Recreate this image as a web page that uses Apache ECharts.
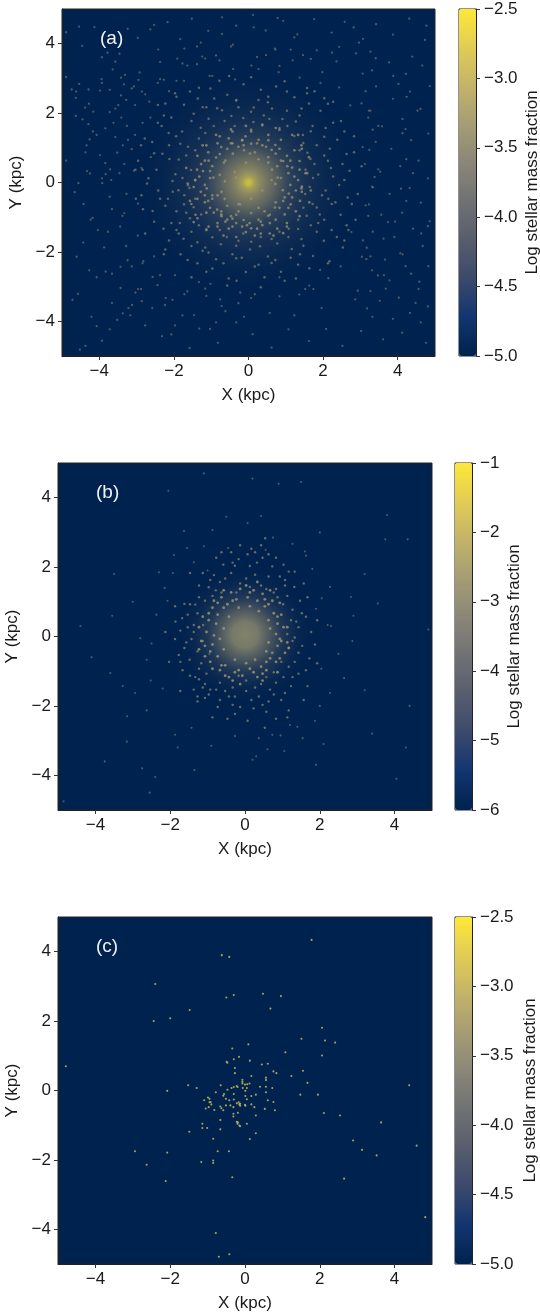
<!DOCTYPE html>
<html><head><meta charset="utf-8">
<style>html,body{margin:0;padding:0;background:#fff}#c{width:540px;height:1312px}</style>
<script src="https://cdn.jsdelivr.net/npm/echarts@6/dist/echarts.min.js"></script>
</head><body><div id="c"></div>
<script>
const xTicks=[-4,-2,0,2,4], yTicks=[-4,-2,0,2,4];
const panelLabels=['(a)','(b)','(c)'];
const cbarTitle='Log stellar mass fraction';
const cbarTicksA=[-5,-4.5,-4,-3.5,-3,-2.5], cbarTicksB=[-6,-5,-4,-3,-2,-1], cbarTicksC=[-5,-4.5,-4,-3.5,-3,-2.5];
const cividis=['#00224e','#123570','#3b496c','#575d6d','#707173','#8a8678','#a59c74','#c3b369','#e1cc55','#fee838'];

const outerA=[-4.89,4.33,-4.54,4.49,-4.46,3.94,-4.89,3.04,-4.54,2.84,-4.74,2.68,-4.29,2.68,-4.63,2.44,-3.94,2.98,-3.78,3.74,-3.64,3.26,-3.31,3.1,-3.13,2.71,-2.95,2.96,-2.77,2.54,-4.38,2.16,-4.16,2.04,-3.98,2.65,-3.49,2.23,-4.45,1.82,-4.29,1.68,-3.84,1.56,-3.04,1.37,-4.34,1.07,-3.98,0.79,-3.52,0.86,-4.89,0.63,-4.25,0.26,-3.71,0.38,-4.56,-0.02,-3.92,-0.02,
-2.63,4.41,-2.17,4.62,-1.83,4.13,-1.52,4.72,-1.08,4.37,-0.71,4.76,-0.33,4.52,0.12,4.83,0.46,4.38,0.93,4.66,1.31,4.27,1.76,4.71,2.23,4.32,2.58,4.63,3.07,4.14,3.42,4.56,3.87,4.26,4.31,4.72,4.73,4.11,-2.42,3.83,-1.91,3.57,-1.38,3.92,-0.87,3.66,-0.42,3.97,0.23,3.62,0.71,3.86,1.18,3.52,1.83,3.81,2.36,3.49,2.88,3.72,3.31,3.23,3.77,3.46,4.22,3.13,4.66,3.37,4.86,2.78,4.33,2.62,3.87,2.41,3.42,2.77,3.03,2.28,4.61,2.12,4.13,1.83,3.58,1.62,3.21,1.87,4.82,1.41,4.36,1.22,3.83,0.97,3.41,1.17,4.56,0.63,4.07,0.47,3.53,0.31,3.12,0.53,4.81,0.12,4.32,-0.16,3.78,-0.33,3.31,-0.12,4.62,-0.58,4.12,-0.87,3.56,-0.93,4.86,-1.12,4.41,-1.33,3.91,-1.57,3.33,-1.42,4.67,-1.83,4.13,-2.07,3.66,-2.22,3.17,-1.88,4.82,-2.41,4.36,-2.63,3.78,-2.82,3.31,-2.53,4.56,-3.07,4.03,-3.32,3.52,-3.41,2.93,-3.12,4.81,-3.57,4.33,-3.76,3.87,-3.93,3.32,-3.87,4.62,-4.03,4.12,-4.33,3.61,-4.52,3.02,-4.28,4.76,-4.62,2.52,-4.71,2.08,-4.22,1.62,-4.57,1.07,-4.23,0.62,-4.76,0.11,-4.37,-0.33,-4.03,-0.82,-4.62,-1.32,-4.21,-1.77,-3.83,-2.32,-4.43,-2.77,-4.12,-3.22,-3.62,-3.72,-4.23,-4.21,-3.87,-4.72,-3.38,-4.37,-4.71,-3.93,-4.56,-3.52,-3.96,-3.12,-3.53,-2.88,-3.07,-2.57,-2.72,-2.22,-3.33,-2.82,-2.27,-3.28,-1.83,-3.77,-1.42,-3.33,-0.88,-3.72,-0.41,-3.13,-2.42,-4.07,-2.73,-4.52,-4.82,-2.07,-4.38,-1.58,-4.77,-1.03,-4.22,-0.62,-3.71,-1.13,-3.27,-0.72,-3.56,-0.22,-3.17,0.07,-3.33,1.63,-2.97,1.92,-2.52,3.27,-2.13,3.07,-1.67,3.18,-3.63,-1.72,-3.22,-1.33,-2.87,-1.02,-2.92,0.83,-2.73,1.52,-3.07,-1.97,-2.67,-2.53,-2.13,-2.87,0.42,-3.37,1.07,-3.62,1.72,-3.28,2.38,-3.07,2.77,-2.62,0.73,-4.17,1.47,-3.93,0.12,-4.42,-0.62,-4.18,-1.02,-4.63,1.92,-4.62,2.62,-3.93,2.87,-4.57,
-3.21,4.58,-2.86,4.07,-2.04,4.81,-1.26,4.09,-0.18,4.23,0.67,4.21,1.54,4.53,2.07,4.02,2.84,4.39,3.63,4.77,4.52,4.48,-3.47,3.68,-3.06,3.47,-2.68,3.16,-2.21,3.62,-1.62,3.74,-1.14,3.23,-0.63,3.34,-0.14,3.48,0.38,3.24,0.94,3.33,1.52,3.27,2.07,3.14,2.63,3.06,3.14,3.41,3.58,2.96,4.03,2.82,4.47,2.24,3.74,1.98,3.18,1.46,3.67,1.23,4.18,0.78,4.74,0.83,3.36,0.72,3.83,0.14,4.47,-0.36,2.97,0.27,3.27,-0.47,3.92,-0.71,4.28,-1.04,3.07,-1.16,3.57,-1.28,4.03,-1.77,3.43,-1.93,2.93,-1.72,3.86,-2.53,4.54,-2.37,2.98,-2.37,3.47,-2.97,4.17,-2.86,2.62,-2.92,3.17,-3.46,3.71,-3.24,4.43,-3.42,2.51,-3.42,3.02,-3.93,3.61,-4.13,4.48,-4.28,2.27,-3.72,2.67,-4.26,1.24,-4.37,0.87,-3.26,1.63,-3.57,2.13,-4.33,0.33,-3.84,0.56,-4.66,-0.28,-3.66,-0.77,-3.44,-1.27,-4.43,-1.73,-4.61,-2.14,-3.83,-2.57,-3.43,-3.04,-3.66,-3.47,-3.17,-3.83,-2.86,-3.42,-2.44,-2.96,-2.58,-3.62,-4.07,-4.14,-3.37,-3.77,-3.03,-3.17,-3.66,-2.63,-3.24,-2.24,-4.27,-2.53,-4.04,-1.37,-3.27,-0.33,-2.96,-0.61,-3.07,0.34,-3.68,0.07,-3.33,0.53,-3.13,0.96,-3.57,1.31,-3.41,1.87,-3.04,2.23,-2.63,1.87,-2.43,2.87,-2.13,2.63,-1.73,2.93,-1.38,3.41,-0.97,3.07,
-1.64,3.37,-0.78,3.52,0.08,3.37,0.81,3.18,1.37,3.02,1.93,2.87,2.43,2.74,2.73,2.22,3.23,2.07,3.48,1.63,3.06,1.02,3.38,0.16,3.14,-0.66,3.21,-0.96,2.76,-1.43,3.04,-2.14,2.47,-2.42,2.14,-2.76,1.74,-3.07,1.36,-3.23,0.83,-3.28,0.17,-3.22,-0.27,-3.48,-0.76,-3.37,-1.16,-3.06,-1.64,-3.14,-2.04,-3.38,-2.37,-2.67,-2.84,-2.33,-2.97,-1.53,-3.38,-0.96,-3.46,0.27,-3.23,1.23,-2.84,1.72,-2.66,2.33,-2.27,2.96,-1.24,3.63,-0.41,3.27,0.47,3.67,1.13,3.83,1.67,3.56,2.43,3.91,3.27,3.77,3.88,3.07,4.24,2.47,4.13,1.42,4.41,0.27,4.23,-0.53,3.93,-1.13,4.63,-1.47,4.21,-2.41,3.63,-2.67,3.27,-3.13,2.86,-3.37,1.96,-3.62,1.23,-3.83,0.57,-3.76,-0.12,-3.87,-0.87,-4.03,-1.46,-3.82,-1.97,-4.12,-2.24,-3.53,-2.96,-3.07,-3.43,-2.43,-3.87,-1.87,-4.23,-1.07,-3.83,0.24,-4.07,1.37,-3.72,2.03,-3.34,2.83,-3.57,3.48];
const midA=[-2.47,0.37,-2.31,0.83,-2.58,1.17,-2.14,1.43,-2.07,1.87,-1.73,2.24,-1.36,2.42,-1.02,2.71,-0.57,2.53,-0.13,2.83,0.33,2.67,0.74,2.77,1.23,2.46,1.62,2.28,1.93,2.07,2.27,1.72,2.38,1.23,2.63,0.82,2.71,0.34,2.43,-0.07,2.66,-0.43,2.47,-0.93,2.23,-1.37,2.02,-1.68,1.73,-2.12,1.33,-2.37,0.87,-2.57,0.43,-2.73,-0.07,-2.58,-0.53,-2.77,-0.97,-2.48,-1.37,-2.33,-1.82,-2.07,-2.13,-1.67,-2.28,-1.33,-2.57,-0.82,-2.37,-0.47,-2.72,-0.03,-1.96,0.24,-2.12,0.68,-1.83,1.12,-1.78,1.47,-1.47,1.98,-1.13,2.17,-0.71,2.08,-0.33,2.38,0.14,2.16,0.52,2.31,1.03,2.07,1.37,1.93,1.72,1.63,2.03,1.32,2.18,0.97,2.13,0.63,2.27,0.17,2.07,-0.23,2.23,-0.62,2.03,-1.07,1.83,-1.42,1.47,-1.82,1.13,-2.17,0.72,-2.23,0.27,-2.37,-0.18,-2.17,-0.67,-2.33,-1.07,-2.02,-1.53,-1.83,-1.87,-1.47,-2.07,-1.17,-2.23,-0.67,-2.03,-0.27,
-1.87,0.66,-1.62,1.03,-1.94,1.33,-1.28,1.58,-1.53,1.77,-1.07,1.84,-0.84,2.14,-0.46,1.92,-0.27,2.17,0.07,2.04,0.41,1.93,0.63,2.13,0.91,1.83,1.27,1.76,1.46,1.37,1.67,1.48,1.83,1.07,1.58,0.86,2.03,0.78,1.77,0.53,2.21,0.42,1.87,0.23,1.64,-0.13,1.97,-0.37,2.14,-0.47,1.72,-0.62,1.91,-0.92,1.56,-0.96,1.67,-1.23,1.33,-1.34,1.42,-1.63,1.07,-1.57,1.16,-1.92,0.77,-1.76,0.52,-2.13,0.31,-1.84,0.04,-1.93,-0.27,-1.68,-0.43,-2.07,-0.74,-1.78,-0.87,-2.21,-1.16,-1.87,-1.37,-1.72,-1.53,-1.42,-1.74,-1.62,-1.84,-1.17,-1.57,-1.03,-1.93,-0.83,-1.73,-0.63,-2.16,-0.47,-1.88,-0.22,-1.62,-0.08,-2.04,0.04,-1.77,0.13,-1.54,0.36,-1.67,0.78,-1.43,0.93,-1.33,1.27,-1.16,1.43,-0.93,1.63,-0.64,1.77,-0.37,1.63,-0.14,1.86,0.13,1.74,0.37,1.64,0.56,1.83,0.83,1.57,1.04,1.63,1.23,1.34,1.47,1.14,1.37,0.93,1.66,0.68,1.53,0.37,1.73,0.13,1.52,-0.33,1.83,-0.72,1.47,-0.73,1.33,-1.07,1.08,-1.33,0.83,-1.42,0.62,-1.63,0.33,-1.57,0.07,-1.71,-0.14,-1.47,-0.33,-1.82,-0.58,-1.57,-0.77,-1.37,-0.97,-1.58,-1.13,-1.34,-1.33,-1.23,-1.27,-0.92,-1.47,-0.71,-1.67,-0.87,-1.72,-0.37,-1.43,-0.47,-1.58,-0.16,
-2.68,0.12,-2.27,1.93,-1.23,2.17,-0.33,2.36,0.53,2.47,1.42,2.13,2.07,1.57,2.52,0.53,2.33,-0.57,1.87,-1.17,1.38,-2.07,0.62,-2.32,-0.33,-2.18,-1.23,-1.97,-1.93,-1.37,-2.42,-0.23,-1.33,2.73,-0.78,2.93,0.07,3.03,0.97,2.92,1.77,2.63,2.27,2.33,2.83,1.33,3.03,0.47,2.93,-0.33,2.87,-1.07,2.53,-1.87,2.13,-2.33,1.27,-2.77,0.33,-3.02,-0.57,-2.97,-1.53,-2.73,-2.27,-2.07,-2.77,-1.47,-3.02,-0.47,-3.03,0.37,-2.88,1.07,-2.43,1.72,-1.93,2.47,1.57,2.72,2.03,2.43,2.48,1.77,2.57,-1.67,2.68,-1.37,-2.83,-0.77,
-2.23,2.28,-1.57,2.62,-0.92,2.42,-0.52,3.07,0.27,2.38,1.03,2.62,1.57,2.57,2.13,2.27,2.57,1.47,2.83,0.87,2.57,0.07,2.77,-0.62,2.63,-1.23,2.37,-1.57,2.17,-2.27,1.63,-2.47,0.97,-2.83,0.17,-2.42,-0.32,-2.83,-1.13,-2.57,-1.63,-2.23,-2.23,-1.93,-2.53,-1.13,-2.87,-0.37,-2.84,0.37,-2.53,0.84,-2.13,1.07,-2.33,1.63,-2.78,1.27,-2.96,0.63,-2.43,2.23,-1.97,2.57];
const innerA=[-1.32,0.17,-1.27,0.53,-1.08,0.87,-0.83,1.13,-0.53,1.27,-0.08,1.33,0.27,1.23,0.72,1.08,1.03,0.77,1.17,0.43,1.33,0.07,1.27,-0.23,1.13,-0.63,0.97,-0.92,0.57,-1.17,0.23,-1.33,-0.17,-1.27,-0.62,-1.13,-0.93,-0.87,-1.17,-0.57,-1.28,-0.27,-1.43,0.07,-1.38,0.37,-1.37,0.77,-1.13,1.07,-0.77,1.33,-0.43,1.47,0.07,1.52,0.53,1.37,0.87,1.23,1.23,0.93,1.37,0.62,1.53,0.27,1.43,-0.12,1.38,-0.53,1.27,-0.83,1.03,-1.17,0.77,-1.33,0.33,-1.47,-0.07,-1.43,-0.53,-1.33,-0.83,-1.17,-1.13,-0.87,-1.37,-0.47,-1.47,-0.13,
-1.03,0.13,-0.97,0.47,-0.87,0.72,-0.57,0.97,-0.27,1.03,0.07,1.12,0.37,1.07,0.73,0.83,0.87,0.63,1.07,0.27,1.12,-0.07,0.97,-0.43,0.83,-0.73,0.57,-0.93,0.27,-1.07,-0.13,-1.08,-0.47,-0.97,-0.73,-0.83,-0.97,-0.47,-1.12,-0.17,-1.22,0.33,-1.07,0.63,-0.73,1.02,-0.43,1.13,-0.17,1.22,0.23,1.13,0.53,1.22,0.83,0.97,1.12,0.63,1.23,0.17,1.17,-0.43,1.07,-0.73,0.73,-1.07,0.37,-1.23,0.03,-1.17,-0.33,-1.17,-0.72,-0.97,-1.03,-0.73,-1.17,-0.37,
-0.77,0.22,-0.66,0.57,-0.42,0.83,-0.12,0.93,0.17,0.87,0.53,0.73,0.77,0.47,0.87,0.13,0.92,-0.22,0.73,-0.57,0.43,-0.83,0.07,-0.88,-0.27,-0.83,-0.57,-0.67,-0.83,-0.37,-1.67,0.42,-1.63,-0.03,-1.57,-0.53,-1.42,-0.93,-1.07,-1.27,-0.67,-1.53,-0.33,-1.57,0.17,-1.53,0.57,-1.47,1.03,-1.27,1.37,-0.97,1.63,-0.57,1.67,-0.23,1.57,0.27,1.62,0.73,1.42,1.07,1.17,1.37,0.73,1.57,0.37,1.67,-0.07,1.63,-0.47,1.53,-0.87,1.37,-1.23,1.07,-1.47,
-1.14,-0.04,-1.23,-0.43,-1.04,-0.33,-0.93,0.33,-1.13,0.71,-0.72,0.53,-0.96,0.93,-0.53,1.08,-0.32,0.72,-0.04,0.78,0.14,1.04,0.47,0.93,0.62,0.62,0.94,0.47,1.03,0.04,0.83,-0.17,1.22,-0.13,1.07,-0.62,0.63,-0.77,0.82,-1.03,0.33,-0.94,0.14,-1.17,-0.07,-0.97,-0.37,-1.08,-0.53,-0.84,-0.78,-0.57,-1.07,-0.73,-0.92,-0.27,-0.62,-0.23,-0.63,0.07,-0.47,0.37,-0.23,0.62,0.07,0.63,0.37,0.53,0.57,0.27,0.67,-0.07,0.57,-0.37,0.31,-0.63,0.03,-0.72,-0.27,-0.64,-0.47,-0.43,-1.27,0.93,-1.46,0.67,-1.53,0.27,-0.73,1.43,-0.27,1.37,0.37,1.43,0.97,1.33,1.37,0.83,1.52,0.07,1.47,-0.47,1.13,-1.17,0.63,-1.43,0.07,-1.53,-0.62,-1.37,-1.03,-1.13,-1.37,-0.83,-1.27,0.07,-1.32,-0.33,0.14,1.42,-0.17,1.53];

const outerB=[-4.85,-4.75,-3.75,-3.6,-3.6,-1.05,-3.55,0.6,-3.5,1.8,-4.4,0.3,-4.1,-0.6,-3,1,-3.15,-2.3,-2.75,-3.8,-2.4,-4.05,-2.2,-1.5,-2.8,-0.05,-2.5,-0.2,-2.15,1.4,-1.55,2.55,-1.1,2.6,-0.95,-0.5,-2.05,4.2,-1.1,4.7,0.2,4.55,-0.5,3.45,-0.45,2.55,-1,1.9,0.9,4.4,1.5,4.45,2,3,0.75,2.85,0.55,2.5,3.2,1.8,3.8,3.5,3.75,2.8,4.35,2.8,4.9,0.2,3.55,0.95,2.9,0.6,2.5,-0.5,2.65,-1.2,3.2,-1.55,3.4,-2.8,2.1,-3.1,4.05,-4.1,4.3,-3.2,4.4,-2,1.05,-3.3,0.3,-3.45,-0.9,-3.15,-1.8,-3.2,-2.55,-4.5,0.2,-3.55,1.9,-3.7,1.4,-2.6,1.2,-2.55,0.6,-3.25,-1.35,-3.85,0.95,-2.85,2,-2,2.3,0.3,2.05,1.1,1.8,1.95,-2.3,1.85,-1.9,2.35,1.6,2.45,1.9,0.8,
-2.94,-1.63,-2.52,-1.27,-2.63,-0.67,-2.37,0.63,-2.07,1.03,-1.93,1.83,-1.37,2.14,-1.63,3.04,-0.87,3.07,0.07,3.27,0.43,3.47,1.27,2.67,1.63,2.33,2.27,1.43,2.83,1.14,2.21,0.33,2.87,-0.13,2.04,-0.93,2.27,-1.63,1.87,-2.43,1.54,-2.93,0.73,-2.83,0.37,-2.93,-0.27,-2.87,-1.43,-2.63,-1.87,-2.83,-2.63,-2.13,-3.27,-1.43,-3.16,-3.03];
const midB=[-1.73,0.17,-1.62,-0.33,-1.68,0.53,-1.47,0.93,-1.23,1.47,-0.83,1.77,-0.58,2.07,-0.17,2.23,0.13,2.03,0.47,2.27,0.73,2.02,0.93,1.73,1.32,1.43,1.47,1.03,1.63,0.57,1.77,0.13,1.53,-0.27,1.72,-0.63,1.43,-1.07,1.23,-1.43,0.97,-1.83,0.57,-2.17,0.23,-2.07,-0.27,-2.23,-0.73,-2.03,-1.07,-1.77,-1.37,-1.53,-1.67,-0.97,-1.77,-0.53,-1.48,-0.67,-1.87,-0.07,-1.33,-1.17,-1.07,-1.37,-1.27,0.67,-1.37,0.33,-1.43,-0.07,-1.23,1.13,-0.97,1.42,-0.67,1.57,-0.37,1.83,0.03,1.67,0.27,1.78,0.63,1.73,0.83,1.37,1.13,1.17,1.27,0.77,1.37,0.43,1.33,-0.03,1.43,-0.47,1.17,-0.87,1.03,-1.17,0.67,-1.53,0.37,-1.73,0.03,-1.57,-0.43,-1.73,-0.77,-1.53,-1.73,-1.57,-1.27,-1.87,-0.87,-2.33,-0.47,-2.37,0.07,-2.43,0.53,-2.63,0.83,-2.37,1.17,-2.13,0.07,2.37,0.43,2.63,0.63,2.37,-0.37,2.43,-0.77,2.27,-1.47,1.83,-1.87,0.87,1.57,1.53,1.03,2.07,1.17,1.87,-2.03,-0.73,-2.13,0.13,1.93,-0.77,1.67,-1.43,1.57,-1.83,1.13,-2.33,
-1.07,1.03,-0.78,1.33,-0.53,1.67,-0.13,1.53,0.43,1.47,0.77,1.27,1.02,0.93,1.23,0.47,1.13,0.07,1.17,-0.33,0.97,-0.73,0.77,-1.03,0.43,-1.37,0.03,-1.27,-0.33,-1.47,-0.67,-1.33,-1.03,-1.07,-1.17,-0.77,-1.27,-0.43,-1.13,-0.13,-1.12,0.33,-1.53,0.27,-1.33,0.92,-0.93,1.63,-0.27,2.04,0.32,2.13,1.07,1.47,1.52,0.67,1.27,-0.13,1.33,-0.73,0.83,-1.33,0.17,-1.83,-0.53,-1.57,-1.23,-1.23,-1.57,-0.17,-1.23,-0.93,-0.33,-1.97,0.77,-1.67,0.27,-1.47,0.57,-1.17,-0.93,-1.53,-0.17,-1.13,0.13,1.43,-0.23,1.27,0.57,1.37,0.87,1.13,-0.63,1.27,-0.87,1.17,-1.37,0.13,
-1.13,-1.47,-1.47,-1.13,-1.86,0.43,-1.62,0.94,-1.13,1.83,-0.63,2.43,-0.13,2.63,0.27,2.43,0.54,2.83,0.83,2.27,1.33,1.87,1.67,1.13,1.93,0.47,1.87,-0.23,1.63,-0.97,1.07,-1.63,0.47,-1.97,-0.13,-2.03,-0.67,-1.83,-1.27,-1.73,-1.73,-0.73,-1.53,0.63,-0.33,2.13,0.17,2.53,1.07,1.63,1.43,0.27,1.27,-1.17,0.63,-1.87,-0.27,-1.73,-0.97,-1.67];
const innerB=[-1.03,0.13,-0.97,0.47,-0.87,0.83,-0.63,1.13,-0.37,1.27,-0.13,1.37,0.23,1.33,0.47,1.23,0.73,1.03,0.97,0.63,1.03,0.27,0.97,-0.13,1.07,-0.47,0.83,-0.73,0.57,-0.97,0.33,-1.17,-0.07,-1.13,-0.43,-1.17,-0.67,-0.97,-0.93,-0.73,-1.07,-0.27,-0.83,0.03,-0.77,0.37,-0.73,0.63,-0.47,0.93,-0.23,1.07,0.07,1.13,0.33,1.03,0.53,0.87,0.77,0.67,0.87,0.37,0.83,0.07,0.87,-0.27,0.67,-0.63,0.43,-0.87,0.13,-0.93,-0.17,-0.97,-0.53,-0.83,-0.73,-0.57,-0.87,-0.23,-0.67,-0.07,-0.57,0.23,-0.43,0.57,-0.17,0.83,0.13,0.87,0.37,0.73,0.63,0.47,0.67,0.23,0.63,-0.17,0.57,-0.43,0.27,-0.67,0.03,-0.77,-0.27,-0.67,-0.57,-0.37,-1.13,0.57,-1.07,-0.57,-0.83,1.03,-0.57,1.33,0.33,1.57,0.67,1.33,0.93,0.97,1.13,0.27,1.17,-0.33,0.87,-1.03,0.47,-1.27,-0.13,-1.37,-0.53,-1.13,-0.87,-0.93,
-0.93,-0.43,-0.97,0.67,-0.57,0.83,-0.33,1.03,0.13,1.27,0.63,0.93,0.87,0.57,0.93,-0.07,0.73,-0.47,0.57,-0.73,0.23,-1.03,-0.27,-1.03,-0.63,-0.83,-1.17,-0.13,-1.23,0.27,-0.33,-1.27,0.47,-1.07,0.93,-0.63,1.13,-0.17,-0.73,0.97,0.03,1.47,0.53,1.07,-1.23,-0.37];

const glowStopsA=[[0,'rgba(254,232,56,1)'],[0.025,'rgba(245,222,60,1)'],[0.055,'rgba(215,195,90,0.97)'],[0.12,'rgba(188,170,105,0.9)'],[0.25,'rgba(160,148,110,0.72)'],[0.4,'rgba(130,124,112,0.42)'],[0.6,'rgba(110,108,110,0.2)'],[0.82,'rgba(92,96,108,0.07)'],[1,'rgba(87,93,109,0)']];
const glowStopsB=[[0,'rgba(172,162,118,0.95)'],[0.2,'rgba(165,155,115,0.9)'],[0.38,'rgba(145,138,112,0.66)'],[0.58,'rgba(120,118,110,0.33)'],[0.8,'rgba(100,102,110,0.1)'],[1,'rgba(87,93,109,0)']];
const glowCentres=[[0,0],[0,0.05]], glowExtent=[210,130];

const pointsC=[-4.79,0.7,-2.4,3.07,-2.44,2,-2,2.08,-1.48,2.32,-0.62,3.9,-0.42,3.85,-0.5,2.68,-0.3,2.75,-0.34,1.21,-0.49,0.83,-0.47,0.8,-0.3,0.9,-0.27,0.65,-0.27,0.5,-0.16,0.97,-2.08,-0.01,-1.52,0.15,-1.29,0.07,-0.78,-0.05,-0.65,0.15,-0.56,-0.1,-0.58,-0.15,-0.47,0.02,-0.36,0.07,-0.3,0.1,-0.22,0.13,-0.2,0.1,-0.3,-0.1,-1.09,-0.28,-0.99,-0.2,-0.95,-0.24,-0.92,-0.33,-0.51,-0.24,-0.42,-0.28,-0.3,-0.26,-0.22,-0.37,-0.95,-0.34,-0.9,-0.4,-1.05,-0.52,-0.97,-0.48,-0.82,-0.56,-0.66,-0.46,-0.63,-0.51,-0.58,-0.57,-0.51,-0.43,-0.39,-0.43,-0.31,-0.48,-0.17,-0.34,-0.15,-0.4,-0.19,-0.64,-0.31,-0.67,-0.31,-0.75,-0.66,-0.85,-0.22,-0.9,-0.19,-0.92,-0.15,-1.01,-0.2,-0.96,-1.14,-0.96,-1.14,-1.08,-1.01,-1.08,-0.66,-1.12,-1.49,-1.19,-0.85,-1.39,-0.73,-1.75,-0.43,-1.75,-1.17,-2.06,-0.85,-2.02,-0.85,-2.09,-0.34,-2.5,-2.94,-1.75,-2.08,-1.79,-2.63,-2.14,-2.12,-2.61,-0.78,-4.11,-0.7,-4.79,-0.42,-4.72,1.78,4.34,0.48,2.79,0.96,2.72,0.68,2.36,2.06,1.81,1.51,1.49,2.14,1.44,2.41,1.38,2.06,1.01,1.08,1.1,0.09,1.33,0.13,0.86,0.45,0.75,0.61,0.77,0.76,0.55,0.84,0.5,1.55,0.57,0.17,0.42,0.56,0.37,0.56,0.3,1.24,0.42,1.67,0.22,4.39,0.15,-0.07,0.31,-0.07,0.25,-0.07,0.2,0,0.17,0.06,0.18,0.12,0.2,-0.06,0.07,0.05,0.07,0.01,-0.01,0.4,0.11,0.56,0.11,0.73,0.07,0.29,-0.12,0.17,-0.16,0.01,-0.16,0.05,-0.25,0.56,-0.05,1.48,-0.12,1.95,-0.12,0.61,-0.28,0.76,-0.33,0.17,-0.4,-0.13,-0.38,0,-0.41,-0.13,-0.44,0.01,-0.44,0.25,-0.48,0.29,-0.72,0.53,-0.53,0.8,-0.57,-0.13,-1.03,0.05,-0.96,0.29,-1.23,0.13,-1.4,2.11,-0.65,2.54,-0.72,3.64,-0.92,2.89,-1.44,3.13,-1.71,3.52,-1.87,4.59,-1.59,2.65,-2.54,4.82,-3.65];

const pairs=(flat,v)=>{const r=[];for(let i=0;i+1<flat.length;i+=2)r.push([flat[i],flat[i+1],v]);return r;};
const minus=v=>String(v).replace('-','\u2212');
const fix1=v=>v.toFixed(1).replace('-','\u2212');
const FONT='"Liberation Sans",Arial,sans-serif', INK='#1a1a1a', FS=17;

const boxes=[{l:62,t:9,w:373,cb:459,gap:48},{l:58,t:463,w:374,cb:455,gap:34},{l:58,t:917,w:374,cb:455,gap:50}];
const H=347, CW=17;
const grid=[],xAxis=[],yAxis=[],series=[],visualMap=[],graphic=[];
const tickStyle={show:true,length:4,lineStyle:{color:'#333',width:1}};
const noLine={show:true,onZero:false,lineStyle:{color:'#222',width:1}};
const cbars=[{min:-5,max:-2.5,ticks:cbarTicksA,fmt:fix1},{min:-6,max:-1,ticks:cbarTicksB,fmt:minus},{min:-5,max:-2.5,ticks:cbarTicksC,fmt:fix1}];
const layers=[
 [{d:pairs(outerA,-3.75),s:2.3,o:0.62},{d:pairs(midA,-3.65),s:2.5,o:0.68},{d:pairs(innerA,-3.45),s:2.7,o:0.75}],
 [{d:pairs(outerB,-3.1),s:2.1,o:0.55},{d:pairs(midB,-3),s:2.4,o:0.68},{d:pairs(innerB,-2.75),s:2.8,o:0.8}],
 [{d:pairs(pointsC,-2.85),s:2.1,o:0.78}]
];
const glows=[glowStopsA,glowStopsB,null];
boxes.forEach((b,i)=>{
 const gi=i*2, cb=cbars[i];
 grid.push({left:b.l,top:b.t,width:b.w,height:H,show:true,outerBoundsMode:'none',backgroundColor:'#00224e',borderColor:'#222',borderWidth:1});
 grid.push({left:b.cb,top:b.t,width:CW,height:H,show:true,outerBoundsMode:'none',backgroundColor:'transparent',borderColor:'#222',borderWidth:1});
 xAxis.push({gridIndex:gi,type:'value',min:-5,max:5,name:'X (kpc)',nameLocation:'middle',nameGap:31,
  nameTextStyle:{fontFamily:FONT,fontSize:FS,color:INK},splitLine:{show:false},axisLine:noLine,
  axisTick:Object.assign({customValues:xTicks},tickStyle),axisLabel:{customValues:xTicks,formatter:minus,fontFamily:FONT,fontSize:FS,color:INK,margin:7}});
 yAxis.push({gridIndex:gi,type:'value',min:-5,max:5,name:'Y (kpc)',nameLocation:'middle',nameGap:35,
  nameTextStyle:{fontFamily:FONT,fontSize:FS,color:INK},splitLine:{show:false},axisLine:noLine,
  axisTick:Object.assign({customValues:yTicks},tickStyle),axisLabel:{customValues:yTicks,formatter:minus,fontFamily:FONT,fontSize:FS,color:INK,margin:7}});
 xAxis.push({gridIndex:gi+1,type:'value',min:0,max:1,show:false});
 yAxis.push({gridIndex:gi+1,type:'value',position:'right',min:cb.min,max:cb.max,name:cbarTitle,nameLocation:'middle',nameRotate:90,nameGap:b.gap,
  nameTextStyle:{fontFamily:FONT,fontSize:FS,color:INK},splitLine:{show:false},axisLine:noLine,
  axisTick:Object.assign({customValues:cb.ticks},tickStyle),axisLabel:{customValues:cb.ticks,formatter:cb.fmt,fontFamily:FONT,fontSize:FS,color:INK,margin:8}});
 if(glows[i]){
  series.push({type:'scatter',xAxisIndex:gi,yAxisIndex:gi,data:[glowCentres[i]],silent:true,animation:false,symbolSize:glowExtent[i],
   itemStyle:{color:{type:'radial',x:0.5,y:0.5,r:0.5,colorStops:glows[i].map(s=>({offset:s[0],color:s[1]}))}}});
 }
 const idx=[];
 layers[i].forEach(L=>{
  idx.push(series.length);
  series.push({type:'scatter',xAxisIndex:gi,yAxisIndex:gi,data:L.d,silent:true,animation:false,clip:true,symbolSize:L.s,itemStyle:{opacity:L.o}});
 });
 series.push({type:'scatter',xAxisIndex:gi+1,yAxisIndex:gi+1,data:[],silent:true});
 visualMap.push({type:'continuous',min:cb.min,max:cb.max,dimension:2,seriesIndex:idx,calculable:false,hoverLink:false,realtime:false,
  left:b.cb,top:b.t,itemWidth:CW,itemHeight:H,padding:0,text:null,showLabel:false,inRange:{color:cividis}});
 graphic.push({type:'text',left:b.l+38,top:b.t+20,z:50,silent:true,style:{text:panelLabels[i],fontFamily:FONT,fontSize:19,fill:'#f2f2f2'}});
});
const chart=echarts.init(document.getElementById('c'),null,{renderer:'canvas',width:540,height:1312});
chart.setOption({animation:false,backgroundColor:'#fff',grid,xAxis,yAxis,series,visualMap,graphic});
</script></body></html>
